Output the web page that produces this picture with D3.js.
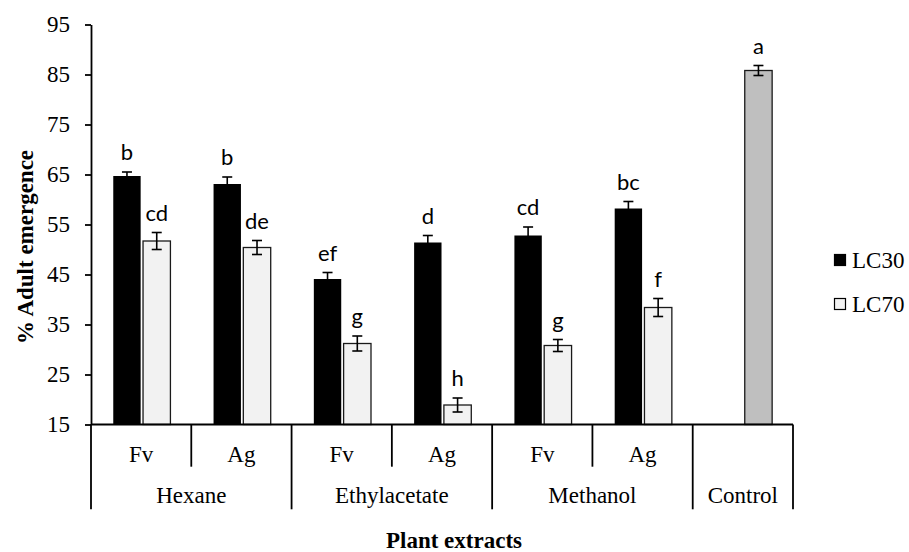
<!DOCTYPE html>
<html>
<head>
<meta charset="utf-8">
<script src="https://cdn.jsdelivr.net/npm/d3@7"></script>
<style>
  html, body { margin: 0; padding: 0; background: #fff; }
  svg { display: block; }
</style>
</head>
<body>
<svg id="chart" width="909" height="552"></svg>
<script>
// ---- data ----
const subCategories = ["Fv", "Ag", "Fv", "Ag", "Fv", "Ag", ""];
const groups = ["Hexane", "Ethylacetate", "Methanol", "Control"];
const groupSpans = [2, 2, 2, 1];
const seriesNames = ["LC30", "LC70"];
const lc30Values = [64.7, 63.1, 44.1, 51.4, 52.8, 58.2, null];
const lc30Errors = [0.8, 1.4, 1.3, 1.4, 1.7, 1.4, null];
const lc30Letters = ["b", "b", "ef", "d", "cd", "bc", ""];
const lc70Values = [51.7, 50.4, 31.2, 18.9, 30.8, 38.4, 85.8];
const lc70Errors = [1.7, 1.4, 1.5, 1.4, 1.2, 1.8, 1.0];
const lc70Letters = ["cd", "de", "g", "h", "g", "f", "a"];
const yTicks = [15, 25, 35, 45, 55, 65, 75, 85, 95];

(function () {
const svg = d3.select("#chart");
const mLeft = 91, mRight = 793, mTop = 24.5, mBottom = 424.5;
const serif = "'Liberation Serif', 'Times New Roman', serif";
const sans = "Lato, Carlito, 'Open Sans', sans-serif";

const y = d3.scaleLinear().domain([15, 95]).range([mBottom, mTop]);
const idx = d3.range(subCategories.length);
const x0 = d3.scaleBand().domain(idx).range([mLeft, mRight]).padding(0);
const bw0 = x0.bandwidth();
const x1 = d3.scaleBand().domain(seriesNames).range([bw0 * 0.222, bw0 * 0.792]).paddingInner(0.08);

const seriesData = [
  {name: "LC30", values: lc30Values, errs: lc30Errors, letters: lc30Letters},
  {name: "LC70", values: lc70Values, errs: lc70Errors, letters: lc70Letters}
];

function fillFor(s, i) {
  if (s.name === "LC30") return "#000000";
  return subCategories[i] === "" ? "#bfbfbf" : "#f2f2f2";
}

// bars
seriesData.forEach(s => {
  const g = svg.append("g");
  idx.forEach(i => {
    const v = s.values[i];
    if (v == null) return;
    const bx = x0(i) + x1(s.name);
    g.append("rect")
      .attr("x", bx).attr("y", y(v))
      .attr("width", x1.bandwidth()).attr("height", y(15) - y(v))
      .attr("fill", fillFor(s, i))
      .attr("stroke", s.name === "LC30" ? "none" : "#1a1a1a")
      .attr("stroke-width", 1.3);
    const cx = bx + x1.bandwidth() / 2;
    const e = s.errs[i];
    const eg = g.append("g").attr("stroke", "#000").attr("stroke-width", 1.6);
    eg.append("line").attr("x1", cx).attr("x2", cx).attr("y1", y(v + e)).attr("y2", y(v - e));
    eg.append("line").attr("x1", cx - 5).attr("x2", cx + 5).attr("y1", y(v + e)).attr("y2", y(v + e));
    eg.append("line").attr("x1", cx - 5).attr("x2", cx + 5).attr("y1", y(v - e)).attr("y2", y(v - e));
    g.append("text")
      .attr("x", cx).attr("y", y(v + e) - 12)
      .attr("text-anchor", "middle")
      .attr("font-family", sans).attr("font-size", 22)
      .attr("fill", "#000")
      .text(s.letters[i]);
  });
});

// y axis
const yAxis = d3.axisLeft(y).tickValues(yTicks).tickSize(6).tickSizeOuter(0).tickPadding(15);
const ya = svg.append("g").attr("transform", `translate(${mLeft},0)`).call(yAxis);
ya.select(".domain").attr("stroke", "#000").attr("stroke-width", 1.8);
ya.selectAll(".tick line").attr("stroke", "#000").attr("stroke-width", 1.8);
ya.selectAll(".tick text").attr("font-family", serif).attr("font-size", 23).attr("fill", "#000");

// x axis (multi-level)
const xa = svg.append("g").attr("stroke", "#000").attr("stroke-width", 1.8);
xa.append("line").attr("x1", mLeft).attr("x2", mRight).attr("y1", mBottom).attr("y2", mBottom);
const subBottom = 466.7, grpBottom = 509.3;
let pos = 0;
const groupBounds = [0];
groupSpans.forEach(n => { pos += n; groupBounds.push(pos); });
d3.range(subCategories.length + 1).forEach(k => {
  const xx = k < subCategories.length ? x0(k) : x0(subCategories.length - 1) + bw0;
  const isGroup = groupBounds.includes(k);
  xa.append("line").attr("x1", xx).attr("x2", xx).attr("y1", mBottom).attr("y2", isGroup ? grpBottom : subBottom);
});
idx.forEach(i => {
  if (!subCategories[i]) return;
  svg.append("text")
    .attr("x", x0(i) + bw0 / 2).attr("y", 461.7)
    .attr("text-anchor", "middle")
    .attr("font-family", serif).attr("font-size", 23).attr("fill", "#000")
    .text(subCategories[i]);
});
groups.forEach((gname, j) => {
  const a = x0(groupBounds[j]);
  const bIdx = groupBounds[j + 1] - 1;
  const b = x0(bIdx) + bw0;
  svg.append("text")
    .attr("x", (a + b) / 2).attr("y", 502.7)
    .attr("text-anchor", "middle")
    .attr("font-family", serif).attr("font-size", 23).attr("fill", "#000")
    .text(gname);
});

// axis titles
svg.append("text")
  .attr("x", 454).attr("y", 548.3)
  .attr("text-anchor", "middle")
  .attr("font-family", serif).attr("font-size", 23).attr("font-weight", "bold")
  .text("Plant extracts");
svg.append("text")
  .attr("transform", "translate(33,247) rotate(-90)")
  .attr("text-anchor", "middle")
  .attr("font-family", serif).attr("font-size", 23).attr("font-weight", "bold")
  .text("% Adult emergence");

// legend
const legY = [260, 304];
seriesData.forEach((s, k) => {
  const lg = svg.append("g").attr("transform", `translate(834,${legY[k]})`);
  lg.append("rect").attr("x", 0.5).attr("y", -5.5).attr("width", 11).attr("height", 11)
    .attr("fill", s.name === "LC30" ? "#000" : "#f2f2f2")
    .attr("stroke", "#000").attr("stroke-width", 1.2);
  lg.append("text").attr("x", 18).attr("y", 8)
    .attr("font-family", serif).attr("font-size", 23).attr("fill", "#000")
    .text(s.name);
});
})();
</script>
</body>
</html>
